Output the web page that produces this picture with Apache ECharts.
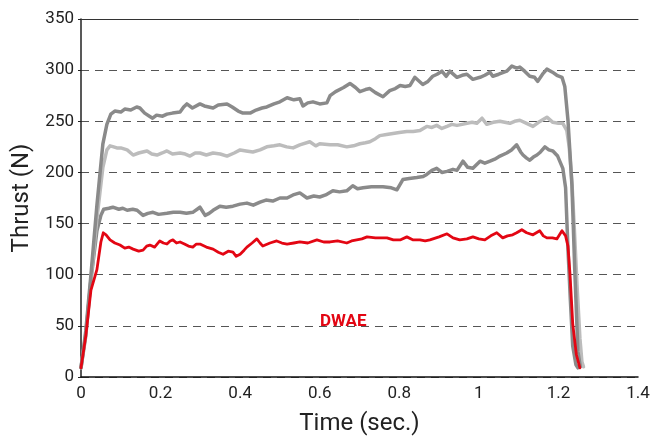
<!DOCTYPE html>
<html><head><meta charset="utf-8">
<script src="https://cdn.jsdelivr.net/npm/echarts@6/dist/echarts.min.js"></script>
<style>html,body{margin:0;padding:0;background:#fff}#c{width:653px;height:441px}</style>
</head><body><div id="c"></div>
<script>
// Series A (dark gray, top)
const timeA = [0,0.012,0.025,0.04,0.055,0.065,0.075,0.085,0.1,0.11,0.125,0.14,0.148,0.16,0.172,0.18,0.19,0.205,0.216,0.23,0.249,0.258,0.266,0.28,0.299,0.31,0.332,0.345,0.367,0.38,0.395,0.407,0.425,0.44,0.455,0.467,0.485,0.5,0.518,0.535,0.55,0.558,0.57,0.583,0.6,0.618,0.626,0.64,0.66,0.676,0.69,0.701,0.715,0.726,0.74,0.759,0.776,0.79,0.802,0.815,0.827,0.839,0.859,0.872,0.884,0.895,0.907,0.918,0.927,0.945,0.958,0.97,0.985,1.003,1.015,1.028,1.035,1.05,1.07,1.083,1.095,1.103,1.115,1.128,1.14,1.148,1.16,1.171,1.185,1.196,1.209,1.216,1.224,1.234,1.241,1.249,1.255];
const thrustA = [9,45,100,168,228,247,257,260,259,262,261,264,263,258,255,253,256,255,257,258,259,264,267,263,267,265,263,266,267,264,260,258,258,261,263,264,267,269,273,271,272,265,268,269,267,268,275,279,283,287,283,279,281,282,278,274,280,282,285,284,285,293,286,289,294,296,299,294,299,293,295,296,291,293,295,298,294,296,299,304,302,303,299,294,293,289,296,301,298,295,293,284,251,187,105,25,10];
// Series B (light gray)
const timeB = [0,0.012,0.025,0.04,0.055,0.065,0.073,0.082,0.09,0.1,0.116,0.131,0.145,0.155,0.166,0.178,0.191,0.204,0.216,0.23,0.249,0.262,0.274,0.287,0.299,0.315,0.332,0.35,0.367,0.385,0.4,0.415,0.432,0.45,0.467,0.485,0.5,0.517,0.533,0.55,0.575,0.59,0.6,0.626,0.645,0.668,0.685,0.701,0.715,0.726,0.74,0.751,0.768,0.784,0.8,0.819,0.835,0.852,0.869,0.882,0.894,0.907,0.92,0.932,0.945,0.958,0.97,0.983,0.995,1.008,1.02,1.036,1.053,1.065,1.078,1.09,1.103,1.12,1.136,1.15,1.171,1.186,1.2,1.211,1.221,1.227,1.234,1.24,1.247,1.254,1.259,1.263];
const thrustB = [9,42,95,155,205,222,226,225,224,224,222,217,219,220,221,218,217,219,221,218,219,218,216,219,219,217,219,218,216,219,222,221,220,222,225,226,227,225,224,227,230,226,228,227,227,225,226,228,229,230,233,236,237,238,239,240,240,241,245,244,246,243,245,247,246,247,248,249,248,253,247,249,250,249,248,250,251,248,245,249,254,249,248,248,241,225,190,145,88,38,15,10];
// Series C (dark gray, middle)
const timeC = [0,0.012,0.025,0.04,0.05,0.057,0.07,0.08,0.095,0.105,0.116,0.13,0.141,0.156,0.168,0.181,0.195,0.216,0.232,0.249,0.265,0.281,0.299,0.312,0.322,0.332,0.349,0.365,0.382,0.4,0.417,0.433,0.45,0.465,0.482,0.5,0.518,0.533,0.55,0.568,0.585,0.6,0.615,0.633,0.65,0.668,0.683,0.695,0.709,0.73,0.759,0.78,0.794,0.809,0.825,0.844,0.86,0.869,0.882,0.894,0.907,0.92,0.935,0.945,0.96,0.972,0.985,1.003,1.015,1.028,1.04,1.053,1.07,1.082,1.095,1.105,1.111,1.12,1.128,1.137,1.146,1.155,1.166,1.176,1.186,1.198,1.211,1.218,1.224,1.23,1.236,1.244,1.249];
const thrustC = [9,40,95,143,158,164,165,166,164,165,163,164,163,158,160,161,159,160,161,161,160,161,166,158,160,163,167,166,167,169,170,168,171,173,172,175,175,178,180,175,177,176,178,182,181,182,187,184,185,186,186,185,183,193,194,195,196,198,202,204,200,201,203,202,211,205,204,211,209,211,213,216,219,222,227,220,217,214,212,215,217,220,225,222,221,216,204,185,125,75,30,12,9];
// Series D (red, DWAE)
const timeD = [0,0.012,0.025,0.04,0.05,0.056,0.063,0.073,0.085,0.098,0.11,0.12,0.131,0.145,0.156,0.165,0.173,0.185,0.198,0.207,0.216,0.224,0.231,0.24,0.249,0.26,0.27,0.281,0.29,0.299,0.315,0.332,0.345,0.357,0.37,0.382,0.39,0.4,0.41,0.417,0.43,0.442,0.45,0.457,0.475,0.492,0.505,0.518,0.535,0.55,0.57,0.593,0.61,0.626,0.645,0.668,0.68,0.693,0.706,0.719,0.74,0.769,0.785,0.802,0.819,0.835,0.852,0.865,0.877,0.9,0.92,0.935,0.952,0.97,0.985,1.0,1.015,1.03,1.045,1.06,1.072,1.085,1.095,1.108,1.12,1.136,1.153,1.162,1.171,1.185,1.196,1.209,1.218,1.224,1.229,1.236,1.245,1.254];
const thrustD = [9,40,85,105,132,141,139,134,131,129,126,127,125,123,124,128,129,127,133,131,130,133,134,131,132,130,128,127,130,130,127,125,122,120,123,122,118,120,124,127,131,135,131,128,131,133,131,130,131,132,131,134,132,132,133,131,133,134,135,137,136,136,134,134,137,134,134,133,134,137,140,136,134,135,137,135,134,138,141,136,138,139,141,144,141,139,143,138,136,136,135,143,138,128,101,52,22,9];

const xTicks = [0,0.2,0.4,0.6,0.8,1,1.2,1.4];
const yTicks = [0,50,100,150,200,250,300,350];
const seriesLabel = 'DWAE';

const zip = (t, v) => t.map((x, i) => [x, v[i]]);
const FONT = 'Roboto';
const chart = echarts.init(document.getElementById('c'), null, {renderer: 'canvas'});
const mkLine = (name, t, v, color, w, z) => ({
  name, type: 'line', data: zip(t, v), showSymbol: false, symbol: 'none', z,
  lineStyle: {color, width: w, cap: 'round', join: 'round'}, smooth: false
});
chart.setOption({
  animation: false,
  backgroundColor: '#fff',
  grid: {left: 81, right: 15, top: 19, bottom: 60, containLabel: false},
  xAxis: [{
    type: 'value', min: 0, max: 1.4, interval: 0.2,
    axisLine: {show: true, lineStyle: {color: '#111', width: 1.5}},
    axisTick: {show: false},
    splitLine: {show: false},
    axisLabel: {color: '#222', fontFamily: FONT, fontSize: 17, margin: 8,
      formatter: v => { const m = xTicks.find(t => Math.abs(t - v) < 1e-6); return m === undefined ? '' : String(m); }},
    name: 'Time (sec.)', nameLocation: 'middle', nameGap: 35,
    nameTextStyle: {color: '#222', fontFamily: FONT, fontSize: 24}
  }, {
    type: 'value', position: 'top', min: 0, max: 1.4,
    axisLine: {show: true, lineStyle: {color: '#333', width: 1}},
    axisTick: {show: false}, axisLabel: {show: false}, splitLine: {show: false}
  }],
  yAxis: {
    type: 'value', min: 0, max: 350, interval: 50,
    axisLine: {show: true, lineStyle: {color: '#222', width: 1.5}},
    axisTick: {show: true, length: 3, lineStyle: {color: '#222'}},
    splitLine: {show: true, lineStyle: {color: '#555', type: [8, 6], width: 1}},
    axisLabel: {color: '#222', fontFamily: FONT, fontSize: 17, margin: 7,
      formatter: v => yTicks.includes(v) ? String(v) : ''},
    name: 'Thrust (N)', nameLocation: 'middle', nameGap: 46,
    nameTextStyle: {color: '#222', fontFamily: FONT, fontSize: 24}
  },
  series: [
    mkLine('C', timeC, thrustC, '#8a8a8a', 3.5, 2),
    mkLine('B', timeB, thrustB, '#bcbcbc', 3.5, 3),
    mkLine('A', timeA, thrustA, '#8a8a8a', 3.5, 4),
    mkLine('D', timeD, thrustD, '#e30613', 2.8, 5)
  ],
  graphic: [{
    type: 'text', left: 320, top: 313,
    style: {text: seriesLabel, fill: '#e30613', font: 'bold 17px Roboto'}
  }]
});
</script>
</body></html>
